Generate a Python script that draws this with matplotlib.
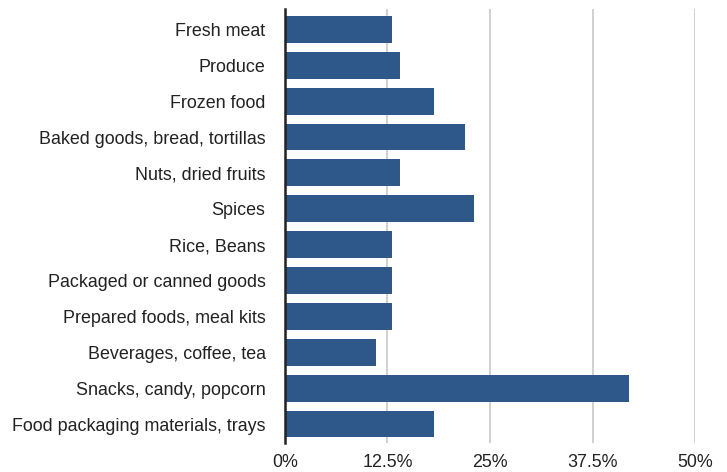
import matplotlib.pyplot as plt

plt.rcParams['font.family'] = ['Liberation Sans', 'DejaVu Sans']

categories = ["Fresh meat", "Produce", "Frozen food", "Baked goods, bread, tortillas",
              "Nuts, dried fruits", "Spices", "Rice, Beans", "Packaged or canned goods",
              "Prepared foods, meal kits", "Beverages, coffee, tea",
              "Snacks, candy, popcorn", "Food packaging materials, trays"]
shares = [13.0, 14.0, 18.2, 22.0, 14.0, 23.0, 13.0, 13.0, 13.0, 11.1, 42.0, 18.2]
xticks = [0, 12.5, 25, 37.5, 50]
xtick_labels = ["0%", "12.5%", "25%", "37.5%", "50%"]

fig = plt.figure(figsize=(7.27, 4.72), dpi=100)
ax = fig.add_axes([0.392, 0.0614, 0.564, 0.9196])

pos = range(len(categories))
ax.barh(pos, shares, height=0.75, color='#2e5889', zorder=3)

ax.set_ylim(len(categories) - 0.47, -0.57)
ax.set_xlim(0, 50)
ax.set_yticks(list(pos))
ax.set_yticklabels(categories, fontsize=12.9, color='#222222')
ax.set_xticks(xticks)
ax.set_xticklabels(xtick_labels, fontsize=12.9, color='#222222')
ax.tick_params(axis='y', length=0, pad=14)
ax.tick_params(axis='x', length=0, pad=8)

ax.grid(axis='x', color='#c8c8c8', linewidth=1.2, zorder=0)
for s in ['top', 'right', 'bottom']:
    ax.spines[s].set_visible(False)
ax.spines['left'].set_color('#222222')
ax.spines['left'].set_linewidth(1.8)
ax.spines['left'].set_zorder(4)

fig.savefig('out.png', dpi=100)
